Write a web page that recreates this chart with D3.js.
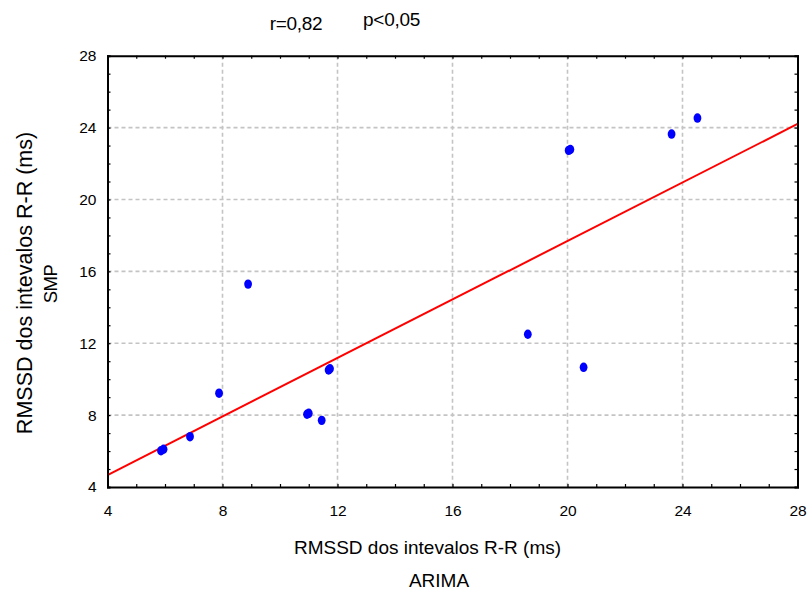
<!DOCTYPE html>
<html>
<head>
<meta charset="utf-8">
<script src="https://cdn.jsdelivr.net/npm/d3@7"></script>
<style>
  html, body { margin: 0; padding: 0; background: #fff; }
  svg { display: block; font-family: "Liberation Sans", Arial, sans-serif; }
</style>
</head>
<body>
<svg id="chart" width="812" height="595"></svg>
<script>
// RMSSD of R-R intervals (ms): ARIMA (x) versus SMP (y)
const arima = [5.86, 5.95, 6.87, 7.88, 8.89, 10.94, 11.0, 11.45, 11.69, 11.74, 18.62, 20.04, 20.1, 20.56, 23.62, 24.52];
const smp   = [6.02, 6.10, 6.80, 9.22, 15.29, 8.05, 8.10, 7.71, 10.51, 10.58, 12.50, 22.73, 22.78, 10.66, 23.64, 24.53];

// fitted regression line  SMP = a + b * ARIMA
const fitIntercept = 1.41;
const fitSlope = 0.814;

const xTicks = [4, 8, 12, 16, 20, 24, 28];
const yTicks = [4, 8, 12, 16, 20, 24, 28];
const minorStep = 1;

const statsLabels = ["r=0,82", "p<0,05"];
const xTitle = ["RMSSD dos intevalos R-R (ms)", "ARIMA"];
const yTitle = ["RMSSD dos intevalos R-R (ms)", "SMP"];

const svg = d3.select("#chart");
const plotLeft = 107.5, plotRight = 797.5, plotTop = 55.7, plotBottom = 487;

const x = d3.scaleLinear().domain([4, 28]).range([plotLeft, plotRight]);
const y = d3.scaleLinear().domain([4, 28]).range([plotBottom, plotTop]);

const minors = d3.range(4, 28.001, minorStep);

// dashed grid at inner major ticks
const grid = svg.append("g")
  .attr("stroke", "#c4c4c4").attr("stroke-width", 1.6).attr("stroke-dasharray", "4,3");
grid.selectAll(".gx").data(xTicks.slice(1, -1)).join("line")
  .attr("x1", d => x(d)).attr("x2", d => x(d)).attr("y1", plotTop).attr("y2", plotBottom);
grid.selectAll(".gy").data(yTicks.slice(1, -1)).join("line")
  .attr("y1", d => y(d)).attr("y2", d => y(d)).attr("x1", plotLeft).attr("x2", plotRight);

// regression line
svg.append("line")
  .attr("x1", x(4)).attr("y1", y(fitIntercept + fitSlope * 4))
  .attr("x2", x(28)).attr("y2", y(fitIntercept + fitSlope * 28))
  .attr("stroke", "#ff0000").attr("stroke-width", 2);

// points
svg.append("g").selectAll("ellipse").data(arima).join("ellipse")
  .attr("cx", d => x(d)).attr("cy", (d, i) => y(smp[i]))
  .attr("rx", 3.9).attr("ry", 4.7)
  .attr("fill", "#0000ff");

// frame axes with inward ticks
const axisG = svg.append("g");
const minorLen = 3;
axisG.append("g").attr("transform", `translate(0,${plotBottom})`)
  .call(d3.axisTop(x).tickValues(minors).tickSize(minorLen).tickFormat(""));
axisG.append("g").attr("transform", `translate(0,${plotTop})`)
  .call(d3.axisBottom(x).tickValues(minors).tickSize(minorLen).tickFormat(""));
axisG.append("g").attr("transform", `translate(${plotLeft},0)`)
  .call(d3.axisRight(y).tickValues(minors).tickSize(minorLen).tickFormat(""));
axisG.append("g").attr("transform", `translate(${plotRight},0)`)
  .call(d3.axisLeft(y).tickValues(minors).tickSize(minorLen).tickFormat(""));
axisG.selectAll("path.domain").attr("stroke", "#000").attr("stroke-width", 2);
axisG.selectAll(".tick line").attr("stroke", "#000").attr("stroke-width", 1.2);

// tick labels
svg.append("g").attr("transform", `translate(0,${plotBottom})`)
  .call(d3.axisBottom(x).tickValues(xTicks).tickSize(0).tickPadding(18))
  .call(g => g.select(".domain").remove())
  .selectAll("text").attr("font-size", 15.5).attr("font-family", "Liberation Sans, Arial, sans-serif").attr("fill", "#000");
svg.append("g").attr("transform", `translate(${plotLeft},0)`)
  .call(d3.axisLeft(y).tickValues(yTicks).tickSize(0).tickPadding(11))
  .call(g => g.select(".domain").remove())
  .selectAll("text").attr("font-size", 15.5).attr("font-family", "Liberation Sans, Arial, sans-serif").attr("fill", "#000");

// correlation statistics
svg.append("text").attr("x", 296).attr("y", 29.5).attr("text-anchor", "middle")
  .attr("font-size", 19).attr("letter-spacing", -0.3).text(statsLabels[0]);
svg.append("text").attr("x", 391.5).attr("y", 26).attr("text-anchor", "middle")
  .attr("font-size", 19).attr("letter-spacing", -0.3).text(statsLabels[1]);

// axis titles
svg.append("text").attr("x", 427.5).attr("y", 554).attr("text-anchor", "middle")
  .attr("font-size", 19).text(xTitle[0]);
svg.append("text").attr("x", 439).attr("y", 587).attr("text-anchor", "middle")
  .attr("font-size", 19).text(xTitle[1]);
svg.append("text").attr("transform", "translate(32,283) rotate(-90)").attr("text-anchor", "middle")
  .attr("font-size", 21.5).text(yTitle[0]);
svg.append("text").attr("transform", "translate(57,284) rotate(-90)").attr("text-anchor", "middle")
  .attr("font-size", 18.5).attr("letter-spacing", -0.6).text(yTitle[1]);
</script>
</body>
</html>
